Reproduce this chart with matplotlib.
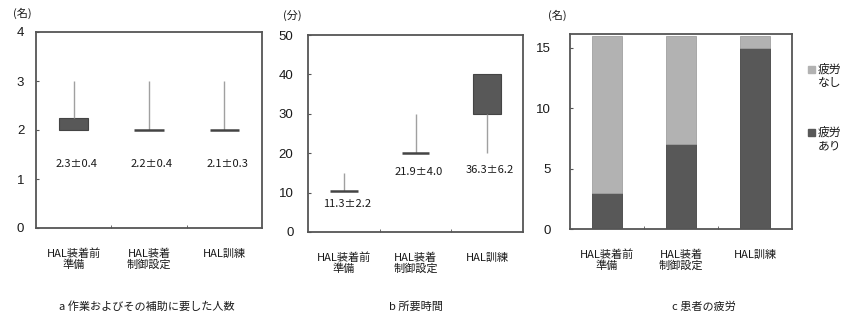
import matplotlib
matplotlib.use("Agg")
import matplotlib.pyplot as plt
from matplotlib.transforms import blended_transform_factory

plt.rcParams['font.family'] = ['Noto Sans CJK JP', 'DejaVu Sans']

categories = ["HAL装着前\n準備", "HAL装着\n制御設定", "HAL訓練"]

# panel a: number of assistants
a_box_low = [2.0, 2.0, 2.0]
a_box_high = [2.25, 2.0, 2.0]
a_whisk_low = [2.25, 2.0, 2.0]
a_whisk_high = [3.0, 3.0, 3.0]
a_labels = ["2.3±0.4", "2.2±0.4", "2.1±0.3"]
a_yticks = [0, 1, 2, 3, 4]

# panel b: required time (min)
b_box_low = [10.5, 20.0, 30.0]
b_box_high = [10.5, 20.0, 40.0]
b_whisk_low = [10.5, 20.0, 20.0]
b_whisk_high = [15.0, 30.0, 30.0]
b_labels = ["11.3±2.2", "21.9±4.0", "36.3±6.2"]
b_yticks = [0, 10, 20, 30, 40, 50]

# panel c: patient fatigue
c_fatigue_yes = [3, 7, 15]
c_fatigue_no = [13, 9, 1]
c_yticks = [0, 5, 10, 15]

W, H = 845, 320
fig = plt.figure(figsize=(W / 100, H / 100), dpi=100)

def ax_at(l, t, r, b):
    return fig.add_axes([l / W, 1 - b / H, (r - l) / W, (b - t) / H])

ax_a = ax_at(36, 32, 262, 228)
ax_b = ax_at(308, 35, 523, 232)
ax_c = ax_at(570, 34, 792, 229)

frame_col = "#555555"
dark = "#585858"
light = "#b2b2b2"
txt = "#1a1a1a"
fs = 8
xpos = [0.5, 1.5, 2.5]

def style(ax, yticks, ylim, pad):
    ax.set_xlim(0, 3)
    ax.set_ylim(*ylim)
    ax.set_yticks(yticks)
    ax.set_yticklabels([str(v) for v in yticks], fontsize=9.5, color=txt,
                       family=["Liberation Sans", "DejaVu Sans"])
    ax.set_xticks(xpos)
    ax.set_xticklabels([])
    ax.tick_params(axis="x", length=0)
    ax.set_xticks([1, 2], minor=True)
    ax.tick_params(axis="x", which="minor", direction="in", length=2, color=frame_col)
    ax.tick_params(axis="y", direction="in", length=2, pad=pad, color=frame_col)
    for s in ax.spines.values():
        s.set_color(frame_col)
        s.set_linewidth(1.3)
    tr = blended_transform_factory(ax.transData, ax.transAxes)
    for x, lab in zip(xpos, categories):
        ax.text(x, -0.105, lab, transform=tr, ha="center", va="top",
                fontsize=fs, color=txt, linespacing=1.05)

def boxes(ax, lows, highs, wl, wh, labels, label_y, width):
    for x, lo, hi, a, b in zip(xpos, lows, highs, wl, wh):
        ax.vlines(x, a, b, color="#a0a0a0", linewidth=1.0)
        if hi > lo:
            ax.bar(x, hi - lo, bottom=lo, width=width, color=dark,
                   edgecolor="#444444", linewidth=0.8)
        else:
            ax.hlines(lo, x - width / 2, x + width / 2, color="#444444", linewidth=1.8)
    for x, lab, y in zip(xpos, labels, label_y):
        ax.text(x + 0.04, y, lab, ha="center", va="center", fontsize=fs, color=txt)

style(ax_a, a_yticks, (0, 4), 8.5)
boxes(ax_a, a_box_low, a_box_high, a_whisk_low, a_whisk_high, a_labels,
      [1.3, 1.3, 1.3], 0.39)

style(ax_b, b_yticks, (0, 50), 10.5)
boxes(ax_b, b_box_low, b_box_high, b_whisk_low, b_whisk_high, b_labels,
      [7.1, 15.2, 15.7], 0.39)

style(ax_c, c_yticks, (0, 16.15), 13.5)
ax_c.bar(xpos, c_fatigue_yes, width=0.4, color=dark, edgecolor="#444444", linewidth=0.6)
ax_c.bar(xpos, c_fatigue_no, bottom=c_fatigue_yes, width=0.4, color=light,
         edgecolor="#a0a0a0", linewidth=0.6)

# unit labels
fig.text(22 / W, 1 - 13 / H, "(名)", fontsize=fs, ha="center", va="center", color=txt)
fig.text(292 / W, 1 - 15 / H, "(分)", fontsize=fs, ha="center", va="center", color=txt)
fig.text(557 / W, 1 - 15 / H, "(名)", fontsize=fs, ha="center", va="center", color=txt)

# captions
fig.text(147 / W, 1 - 307 / H, "a 作業およびその補助に要した人数", fontsize=fs,
         ha="center", va="center", color=txt)
fig.text(416 / W, 1 - 307 / H, "b 所要時間", fontsize=fs,
         ha="center", va="center", color=txt)
fig.text(704 / W, 1 - 307 / H, "c 患者の疲労", fontsize=fs,
         ha="center", va="center", color=txt)

# legend (cut at right edge as in the reference)
leg_items = [("疲労\nなし", light, 69), ("疲労\nあり", dark, 132)]
for lab, col, y in leg_items:
    fig.patches.append(plt.Rectangle((808 / W, 1 - (y + 3.5) / H), 7 / W, 7 / H,
                                     transform=fig.transFigure, color=col))
    fig.text(818 / W, 1 - (y - 6) / H, lab, fontsize=8.5, ha="left", va="top",
             color=txt, linespacing=1.0)

fig.savefig("out.png", dpi=100)
